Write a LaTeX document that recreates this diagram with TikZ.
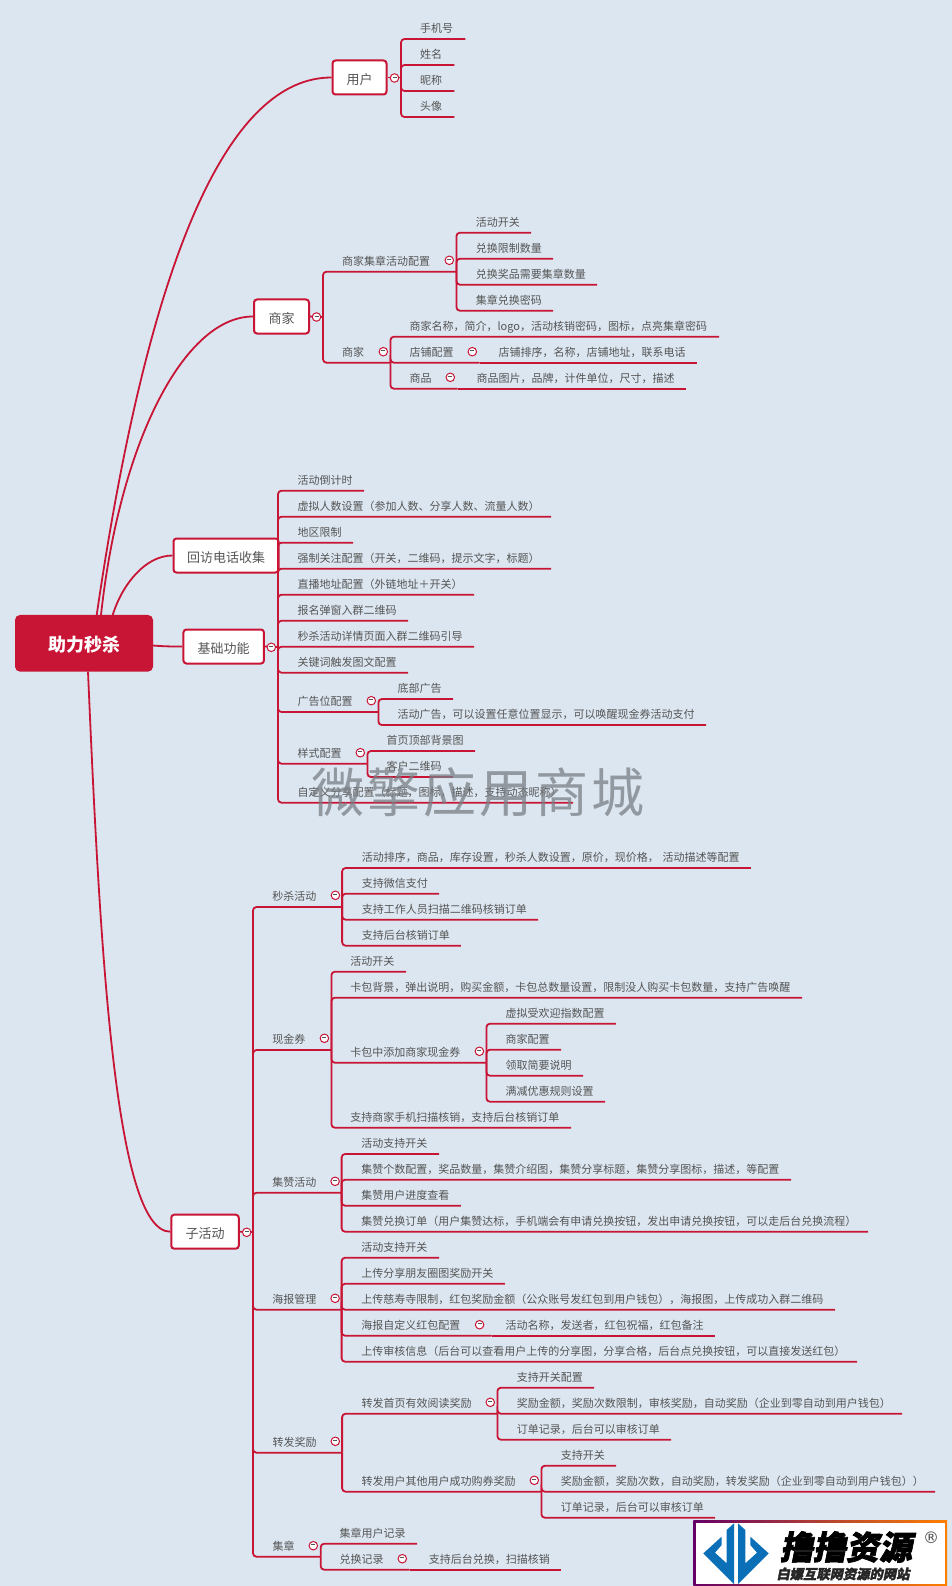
\documentclass[tikz,border=0pt]{standalone}
\usepackage{fontspec}
\usepackage{tikz}
\setmainfont{Noto Sans CJK SC}
\newfontfamily\logofont[FakeSlant=0.2,FakeBold=2]{Noto Sans CJK SC}
\newfontfamily\markfont[LetterSpace=6]{Noto Sans CJK SC}
\newfontfamily\regfont{DejaVu Sans}
\definecolor{bgblue}{HTML}{DCE6F0}
\definecolor{linkred}{HTML}{C81435}
\definecolor{labelgray}{HTML}{555555}
\definecolor{logoblue}{HTML}{0B6FB8}
\newcommand{\minusbar}{\textcolor{labelgray}{\rule[1.6pt]{4pt}{0.9pt}}}
\begin{document}
\begin{tikzpicture}
[x=1pt,y=-1pt]
\tikzset{link/.style={draw=linkred,line width=1.8pt,rounded corners=3.5pt}}
\tikzset{leaf/.style={anchor=south west,inner xsep=0pt,inner ysep=6pt,text depth=0pt,text height=9pt,text width=#1pt,align=left,text=labelgray,font=\fontsize{11}{13}\selectfont}}
\tikzset{topicbox/.style={rectangle,rounded corners=3pt,draw=linkred,line width=2pt,fill=white,inner sep=0pt,minimum width=#1pt,minimum height=34pt,text height=15pt,text depth=1.1pt,text=labelgray,font=\fontsize{13}{15}\selectfont}}
\tikzset{toggle/.style={circle,draw=linkred,line width=1pt,fill=white,inner sep=0pt,minimum size=8.5pt}}
\useasboundingbox (0,0) rectangle (952,1586);
\fill [bgblue] (0,0) rectangle (952,1586);

\node [rectangle,rounded corners=5pt,fill=linkred,text=white,inner sep=0pt,minimum width=138pt,minimum height=56.7pt,text height=18pt,text depth=1pt,font=\fontsize{18}{20}\bfseries] (n0) at (84,643.3) {助力秒杀};

\node [topicbox=54] (n1) at (359.5,77.5) {用户};
\node [topicbox=55] (n2) at (281.5,316.5) {商家};
\node [topicbox=105] (n3) at (226,555.5) {回访电话收集};
\node [topicbox=80.5] (n4) at (223.7,646.5) {基础功能};
\node [topicbox=67.5] (n5) at (205,1231.7) {子活动};

\coordinate (h1) at (96.7,615);
\coordinate (h2) at (101,615);
\coordinate (h3) at (112.7,615);
\coordinate (h4) at (153,645.5);
\coordinate (h5) at (88,671.7);
\coordinate (c1) at (401,77.5);
\coordinate (c2) at (323,317);
\coordinate (c4) at (278,647);
\coordinate (c5) at (253,1232);

\node [leaf=45] (n11) at (420,39) {手机号};
\node [leaf=34] (n12) at (420,65) {姓名};
\node [leaf=34] (n13) at (420,91) {昵称};
\node [leaf=34] (n14) at (420,117) {头像};

\node [leaf=114] (n21) at (342,271.7) {商家集章活动配置};
\node [leaf=55] (n211) at (475.7,232.7) {活动开关};
\node [leaf=77] (n212) at (475.7,258.7) {兑换限制数量};
\node [leaf=121] (n213) at (475.7,284.7) {兑换奖品需要集章数量};
\node [leaf=77] (n214) at (475.7,310.7) {集章兑换密码};
\node [leaf=48] (n22) at (342,362.7) {商家};
\node [leaf=309.4] (n221) at (409.3,336.7) {商家名称，简介，logo，活动核销密码，图标，点亮集章密码};
\node [leaf=70] (n222) at (409.3,362.7) {店铺配置};
\node [leaf=198.4] (n2221) at (498.3,362.7) {店铺排序，名称，店铺地址，联系电话};
\node [leaf=48] (n223) at (409.3,388.7) {商品};
\node [leaf=209.4] (n2231) at (476.3,388.7) {商品图片，品牌，计件单位，尺寸，描述};

\node [leaf=66.4] (n41) at (297.3,490.7) {活动倒计时};
\node [leaf=253.4] (n42) at (297.3,516.7) {虚拟人数设置（参加人数、分享人数、流量人数）};
\node [leaf=55.4] (n43) at (297.3,542.7) {地区限制};
\node [leaf=253.4] (n44) at (297.3,568.7) {强制关注配置（开关，二维码，提示文字，标题）};
\node [leaf=176.4] (n45) at (297.3,594.7) {直播地址配置（外链地址＋开关）};
\node [leaf=110.4] (n46) at (297.3,620.7) {报名弹窗入群二维码};
\node [leaf=176.4] (n47) at (297.3,646.7) {秒杀活动详情页面入群二维码引导};
\node [leaf=110.4] (n48) at (297.3,672.7) {关键词触发图文配置};
\node [leaf=80.7] (n49) at (297.3,712) {广告位配置};
\node [leaf=55.4] (n491) at (397.3,699) {底部广告};
\node [leaf=308.4] (n492) at (397.3,725) {活动广告，可以设置任意位置显示，可以唤醒现金券活动支付};
\node [leaf=69.7] (n410) at (297.3,763.7) {样式配置};
\node [leaf=88.4] (n4101) at (386.3,751) {首页顶部背景图};
\node [leaf=66.4] (n4102) at (386.3,777) {客户二维码};
\node [leaf=275.4] (n411) at (297.3,802.7) {自定义分享配置（标题，图标，描述，支持动态昵称）};

\node [leaf=69.5] (n51) at (272.2,907) {秒杀活动};
\node [leaf=388.8] (n511) at (361.7,868) {活动排序，商品，库存设置，秒杀人数设置，原价，现价格， 活动描述等配置};
\node [leaf=77] (n512) at (361.7,893.7) {支持微信支付};
\node [leaf=176.1] (n513) at (361.7,919.7) {支持工作人员扫描二维码核销订单};
\node [leaf=98.8] (n514) at (361.7,945.7) {支持后台核销订单};

\node [leaf=58.8] (n52) at (272.2,1050) {现金券};
\node [leaf=55.5] (n521) at (350.2,971.7) {活动开关};
\node [leaf=451.4] (n522) at (350.2,997.7) {卡包背景，弹出说明，购买金额，卡包总数量设置，限制没人购买卡包数量，支持广告唤醒};
\node [leaf=135.8] (n523) at (350.2,1062.7) {卡包中添加商家现金券};
\node [leaf=110.2] (n5231) at (505.3,1023.7) {虚拟受欢迎指数配置};
\node [leaf=55.5] (n5232) at (505.3,1049.7) {商家配置};
\node [leaf=77.3] (n5233) at (505.3,1075.7) {领取简要说明};
\node [leaf=99.5] (n5234) at (505.3,1101.7) {满减优惠规则设置};
\node [leaf=220.5] (n524) at (350.2,1127.7) {支持商家手机扫描核销，支持后台核销订单};

\node [leaf=69] (n53) at (272.2,1192.7) {集赞活动};
\node [leaf=77.6] (n531) at (361.2,1154) {活动支持开关};
\node [leaf=429.4] (n532) at (361.2,1179.7) {集赞个数配置，奖品数量，集赞介绍图，集赞分享标题，集赞分享图标，描述，等配置};
\node [leaf=99.2] (n533) at (361.2,1205.7) {集赞用户进度查看};
\node [leaf=506.6] (n534) at (361.2,1231.7) {集赞兑换订单（用户集赞达标，手机端会有申请兑换按钮，发出申请兑换按钮，可以走后台兑换流程）};

\node [leaf=69] (n54) at (272.2,1309.7) {海报管理};
\node [leaf=77.6] (n541) at (361.2,1257.7) {活动支持开关};
\node [leaf=143.3] (n542) at (361.2,1283.7) {上传分享朋友圈图奖励开关};
\node [leaf=473.5] (n543) at (361.2,1309.7) {上传慈寿寺限制，红包奖励金额（公众账号发红包到用户钱包），海报图，上传成功入群二维码};
\node [leaf=130] (n544) at (361.2,1335.7) {海报自定义红包配置};
\node [leaf=209.4] (n5441) at (505.3,1335.7) {活动名称，发送者，红包祝福，红包备注};
\node [leaf=495.5] (n545) at (361.2,1361.7) {上传审核信息（后台可以查看用户上传的分享图，分享合格，后台点兑换按钮，可以直接发送红包）};

\node [leaf=69.4] (n55) at (272.3,1452.7) {转发奖励};
\node [leaf=135.7] (n551) at (361.3,1413.7) {转发首页有效阅读奖励};
\node [leaf=77] (n5511) at (516.7,1387.7) {支持开关配置};
\node [leaf=385] (n5512) at (516.7,1413.7) {奖励金额，奖励次数限制，审核奖励，自动奖励（企业到零自动到用户钱包）};
\node [leaf=154] (n5513) at (516.7,1439.7) {订单记录，后台可以审核订单};
\node [leaf=179.7] (n552) at (361.3,1491.7) {转发用户其他用户成功购券奖励};
\node [leaf=55] (n5521) at (560.7,1465.7) {支持开关};
\node [leaf=374] (n5522) at (560.7,1491.7) {奖励金额，奖励次数，自动奖励，转发奖励（企业到零自动到用户钱包））};
\node [leaf=154] (n5523) at (560.7,1517.7) {订单记录，后台可以审核订单};

\node [leaf=48] (n56) at (272.3,1556.7) {集章};
\node [leaf=77.4] (n561) at (339.3,1543.7) {集章用户记录};
\node [leaf=70] (n562) at (339.3,1569.7) {兑换记录};
\node [leaf=132] (n5621) at (428.7,1569.7) {支持后台兑换，扫描核销};

\draw [link] (h1) .. controls (150,250) and (230,77.5) .. (n1.west);
\draw [link] (h2) .. controls (120,440) and (185,316.5) .. (n2.west);
\draw [link] (h3) .. controls (122,585) and (145,555.5) .. (n3.west);
\draw [link] (h4) .. controls (165,646.5) and (172,646.5) .. (n4.west);
\draw [link] (h5) .. controls (100,950) and (115,1231.7) .. (n5.west);

\foreach \from/\to in {n1/c1,n2/c2,n4/c4,n5/c5}
	\draw [link] (\from.east) -- (\to);

\foreach \from/\to in {c1/n11,c1/n12,c1/n13,c1/n14,c2/n21,c2/n22,
	c4/n41,c4/n42,c4/n43,c4/n44,c4/n45,c4/n46,c4/n47,c4/n48,c4/n49,c4/n410,c4/n411,
	c5/n51,c5/n52,c5/n53,c5/n54,c5/n55,c5/n56}
	\draw [link] (\from) |- (\to.south east);

\foreach \from/\to in {n21/n211,n21/n212,n21/n213,n21/n214,n22/n221,n22/n222,n22/n223,
	n49/n491,n49/n492,n410/n4101,n410/n4102,
	n51/n511,n51/n512,n51/n513,n51/n514,n52/n521,n52/n522,n52/n523,n52/n524,
	n523/n5231,n523/n5232,n523/n5233,n523/n5234,
	n53/n531,n53/n532,n53/n533,n53/n534,n54/n541,n54/n542,n54/n543,n54/n544,n54/n545,
	n55/n551,n55/n552,n551/n5511,n551/n5512,n551/n5513,n552/n5521,n552/n5522,n552/n5523,
	n56/n561,n56/n562}
	\draw [link] (\from.south east) |- (\to.south east);

\foreach \from/\to in {n222/n2221,n223/n2231,n544/n5441,n562/n5621}
	\draw [link] (\from.south east) -- (\to.south east);

\foreach \name/\px/\py in {t1/394.5/78,t2/316.5/317,t21/449.3/260.3,t22/383.3/351.7,t222/472.3/351.7,t223/450.3/377.3,
	t4/271.3/647.3,t49/371.3/700.7,t410/360.3/752.7,t5/246.7/1232.3,t51/335.4/895.3,t52/324.4/1038.3,t523/479.4/1051.3,
	t53/335.1/1181.3,t54/335.1/1298.3,t544/479.6/1324.7,t55/335.3/1441.3,t551/490.3/1402.3,t552/534.3/1480.3,
	t56/313.3/1545.7,t562/402.3/1558.7}
	\node [toggle] (\name) at (\px,\py) {\minusbar};

% watermark
\node [text=black!45!bgblue,text opacity=.75,inner sep=0pt,font=\fontsize{53}{60}\markfont] (mark) at (478,792.5) {微擎应用商城};

% badge in the corner
\shade [left color=violet!80!black,middle color=green!40!black,right color=orange] (693.3,1520.7) rectangle (947,1586);
\fill [white] (695.8,1523.2) rectangle (944.5,1584);
\begin{scope}[shift={(660,1480)},scale=.3333]
\fill [logoblue] (222,130) -- (200,150) -- (200,250) -- (165,218) -- (185,195) -- (185,170) -- (130,220) -- (222,312) -- cycle;
\fill [logoblue] (234,130) -- (256,150) -- (256,250) -- (291,218) -- (271,195) -- (271,170) -- (326,220) -- (234,312) -- cycle;
\end{scope}
\node [inner sep=0pt,text=black,font=\fontsize{33}{38}\logofont\bfseries] (brand) at (846,1547) {撸撸资源};
\node [inner sep=0pt,text=black!85,font=\fontsize{13.3}{15}\logofont\bfseries] (slogan) at (843,1574) {白嫖互联网资源的网站};
\node [inner sep=0pt,text=black!70,font=\fontsize{16}{18}\regfont] (reg) at (931,1538) {®};

\end{tikzpicture}
\end{document}
